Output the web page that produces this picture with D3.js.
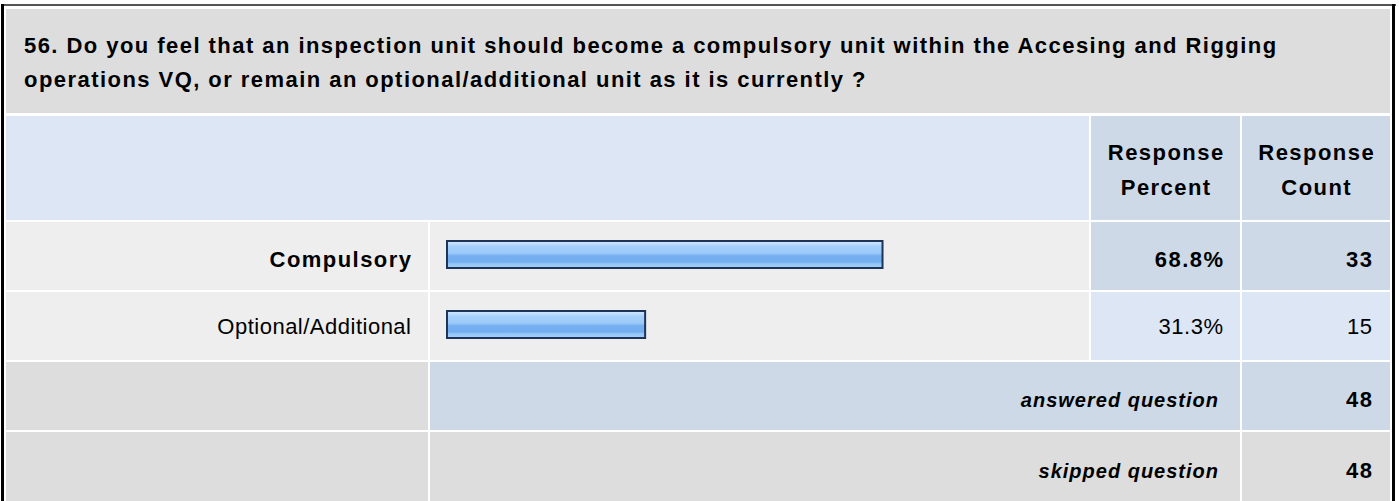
<!DOCTYPE html>
<html>
<head>
<meta charset="utf-8">
<script src="https://cdn.jsdelivr.net/npm/d3@7"></script>
<style>
  html, body { margin: 0; padding: 0; background: #ffffff; }
  svg { display: block; }
  text { font-family: "Liberation Sans", Arial, Helvetica, sans-serif; fill: #000; }
</style>
</head>
<body>
<svg id="chart" width="1399" height="501"></svg>
<script>
// Question text and table contents
const questionLines = [
  "56. Do you feel that an inspection unit should become a compulsory unit within the Accesing and Rigging",
  "operations VQ, or remain an optional/additional unit as it is currently ?"
];
const headerPercent = ["Response", "Percent"];
const headerCount = ["Response", "Count"];
const answerChoices = ["Compulsory", "Optional/Additional"];
const responsePercents = [68.8, 31.3];
const responseCounts = [33, 15];
const summaryLabels = ["answered question", "skipped question"];
const summaryCounts = [48, 48];

const svg = d3.select("#chart");

// Table geometry: column edges and row edges
const colX = [6, 428, 430, 1089, 1091, 1240, 1242, 1390];
const rowY = [9, 113, 116, 220, 222, 290, 292, 360, 362, 430, 432, 501];

const C = {
  gray: "#dddddd",
  lightBlue: "#dce6f4",
  slate: "#cdd9e7",
  rowGray: "#eeeeee"
};

const font = 22;
const spacing = 1.45;

// Outer frame
svg.append("rect").attr("x", 1).attr("y", 4).attr("width", 1395).attr("height", 2).attr("fill", "#555");
svg.append("rect").attr("x", 1).attr("y", 4).attr("width", 3).attr("height", 497).attr("fill", "#000");
svg.append("rect").attr("x", 1392).attr("y", 4).attr("width", 3).attr("height", 497).attr("fill", "#000");

function cell(x0, x1, y0, y1, fill) {
  svg.append("rect").attr("x", x0).attr("y", y0)
    .attr("width", x1 - x0).attr("height", y1 - y0).attr("fill", fill);
}

// Title row
cell(colX[0], colX[7], rowY[0], rowY[1], C.gray);
svg.append("g").selectAll("text").data(questionLines).join("text")
  .attr("x", 24)
  .attr("y", (d, i) => 53 + i * 34)
  .attr("font-size", font).attr("font-weight", "bold")
  .attr("letter-spacing", spacing)
  .text(d => d);

// Header row
const hy0 = rowY[2], hy1 = rowY[3];
cell(colX[0], colX[3], hy0, hy1, C.lightBlue);
cell(colX[4], colX[5], hy0, hy1, C.slate);
cell(colX[6], colX[7], hy0, hy1, C.slate);
[[headerPercent, (colX[4] + colX[5]) / 2], [headerCount, (colX[6] + colX[7]) / 2]].forEach(([lines, cx]) => {
  svg.append("g").selectAll("text").data(lines).join("text")
    .attr("x", cx + spacing / 2)
    .attr("y", (d, i) => 160 + i * 35)
    .attr("text-anchor", "middle")
    .attr("font-size", font).attr("font-weight", "bold")
    .attr("letter-spacing", spacing)
    .text(d => d);
});

// Bar scale
const x = d3.scaleLinear().domain([0, 100]).range([447, 1080]);

const defs = svg.append("defs");
const grad = defs.append("linearGradient").attr("id", "barFill")
  .attr("x1", 0).attr("y1", 0).attr("x2", 0).attr("y2", 1);
[
  [0, "#d6ebff"], [0.12, "#bcdcfd"], [0.2, "#a5d0fb"], [0.45, "#9ccaf9"],
  [0.5, "#88bcf5"], [0.55, "#76aff0"], [0.78, "#74aef0"], [0.84, "#92c5f8"], [1, "#a4d0fb"]
].forEach(([o, c]) => grad.append("stop").attr("offset", o).attr("stop-color", c));

// Answer rows (baseline offset from the row top)
const answerBaseline = [45, 42];
answerChoices.forEach((label, i) => {
  const y0 = rowY[4 + i * 2], y1 = rowY[5 + i * 2];
  const cy = (y0 + y1) / 2;
  const bold = i === 0;
  const ls = bold ? spacing : 0.5;
  const valFill = i === 0 ? C.slate : C.lightBlue;
  cell(colX[0], colX[1], y0, y1, C.rowGray);
  cell(colX[2], colX[3], y0, y1, C.rowGray);
  cell(colX[4], colX[5], y0, y1, valFill);
  cell(colX[6], colX[7], y0, y1, valFill);

  svg.append("rect")
    .attr("x", x(0)).attr("y", cy - 15)
    .attr("width", x(responsePercents[i]) - x(0)).attr("height", 27)
    .attr("fill", "url(#barFill)")
    .attr("stroke", "#1d3358").attr("stroke-width", 2);

  const t = (tx, s) => svg.append("text")
    .attr("x", tx + ls).attr("y", y0 + answerBaseline[i])
    .attr("text-anchor", "end")
    .attr("font-size", font)
    .attr("font-weight", bold ? "bold" : "normal")
    .attr("letter-spacing", ls)
    .text(s);
  t(411, label);
  t(1223, responsePercents[i].toFixed(1) + "%");
  t(1372, responseCounts[i]);
});

// Summary rows
summaryLabels.forEach((label, i) => {
  const y0 = rowY[8 + i * 2], y1 = rowY[9 + i * 2];
  const cy = (y0 + y1) / 2;
  const fill = i === 0 ? C.slate : C.gray;
  cell(colX[0], colX[1], y0, y1, C.gray);
  cell(colX[2], colX[5], y0, y1, fill);
  cell(colX[6], colX[7], y0, y1, fill);
  svg.append("text")
    .attr("x", 1219).attr("y", cy + 11)
    .attr("text-anchor", "end")
    .attr("font-size", 20).attr("font-weight", "bold").attr("font-style", "italic")
    .attr("letter-spacing", 1)
    .text(label);
  svg.append("text")
    .attr("x", 1372 + spacing).attr("y", cy + 11)
    .attr("text-anchor", "end")
    .attr("font-size", font).attr("font-weight", "bold")
    .attr("letter-spacing", spacing)
    .text(summaryCounts[i]);
});
</script>
</body>
</html>
